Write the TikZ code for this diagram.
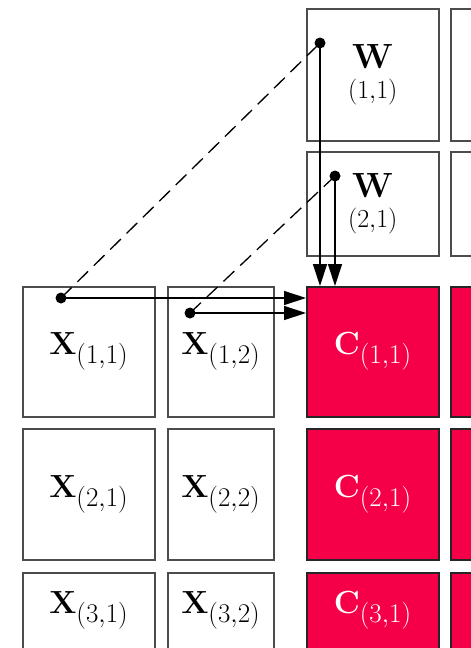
\RequirePackage{fix-cm}
\documentclass[tikz,border=0pt]{standalone}
\usetikzlibrary{arrows.meta}
\DeclareMathSizes{32}{32}{27}{19}
\definecolor{crim}{RGB}{245,0,72}
\begin{document}
\begin{tikzpicture}[x=1pt,y=-1pt,
  cell/.style={draw=black!70, line width=1.5pt, fill=white, inner sep=0pt, anchor=north west, align=center},
  ccell/.style={cell, fill=crim, draw=black!85, text=white},
  big/.style={font=\fontsize{32}{36}\selectfont},
  wfont/.style={font=\fontsize{26}{30}\selectfont},
  dot/.style={circle, fill=black, inner sep=0pt, minimum size=11pt},
  conn/.style={line width=1.3pt, -{Triangle[length=22pt,width=14pt]}},
  dashline/.style={line width=1.3pt, dash pattern=on 15pt off 8pt}
]
\useasboundingbox (0,0) rectangle (471,648);
\clip (0,0) rectangle (471,648);
% W blocks
\node[cell, wfont, minimum width=132pt, minimum height=132pt] (W11) at (306,8)
  {{\fontsize{35}{35}\selectfont$\mathbf{W}$}\\$(1{,}1)$};
\node[cell, wfont, minimum width=132pt, minimum height=104pt] (W21) at (306,151)
  {{\fontsize{35}{35}\selectfont$\mathbf{W}$}\\$(2{,}1)$};
\node[cell, minimum width=132pt, minimum height=132pt] (W12) at (450,8) {};
\node[cell, minimum width=132pt, minimum height=104pt] (W22) at (450,151) {};
% X blocks
\node[cell, big, minimum width=132pt, minimum height=130pt] (X11) at (22,286) {$\mathbf{X}_{(1,1)}$};
\node[cell, big, minimum width=106pt, minimum height=130pt] (X12) at (167,286) {$\mathbf{X}_{(1,2)}$};
\node[cell, big, minimum width=132pt, minimum height=131pt] (X21) at (22,428) {$\mathbf{X}_{(2,1)}$};
\node[cell, big, minimum width=106pt, minimum height=131pt] (X22) at (167,428) {$\mathbf{X}_{(2,2)}$};
\node[cell, big, minimum width=132pt, minimum height=76pt] (X31) at (22,572) {$\mathbf{X}_{(3,1)}$};
\node[cell, big, minimum width=106pt, minimum height=76pt] (X32) at (167,572) {$\mathbf{X}_{(3,2)}$};
% C blocks
\node[ccell, big, minimum width=132pt, minimum height=130pt] (C11) at (306,286) {$\mathbf{C}_{(1,1)}$};
\node[ccell, big, minimum width=132pt, minimum height=131pt] (C21) at (306,428) {$\mathbf{C}_{(2,1)}$};
\node[ccell, big, minimum width=132pt, minimum height=76pt] (C31) at (306,572) {$\mathbf{C}_{(3,1)}$};
\node[ccell, minimum width=132pt, minimum height=130pt] (C12) at (450,286) {};
\node[ccell, minimum width=132pt, minimum height=131pt] (C22) at (450,428) {};
\node[ccell, minimum width=132pt, minimum height=76pt] (C32) at (450,572) {};
% dots
\node[dot] (dw1) at (320,43) {};
\node[dot] (dw2) at (335,176) {};
\node[dot] (dx1) at (61,298) {};
\node[dot] (dx2) at (190,313) {};
% connectors
\draw[dashline] (dx1.center) -- (dw1.center);
\draw[dashline] (dx2.center) -- (dw2.center);
\draw[conn] (dw1.center) -- (dw1.center |- C11.north);
\draw[conn] (dw2.center) -- (dw2.center |- C11.north);
\draw[conn] (dx1.center) -- (dx1.center -| C11.west);
\draw[conn] (dx2.center) -- (dx2.center -| C11.west);
\end{tikzpicture}
\end{document}
